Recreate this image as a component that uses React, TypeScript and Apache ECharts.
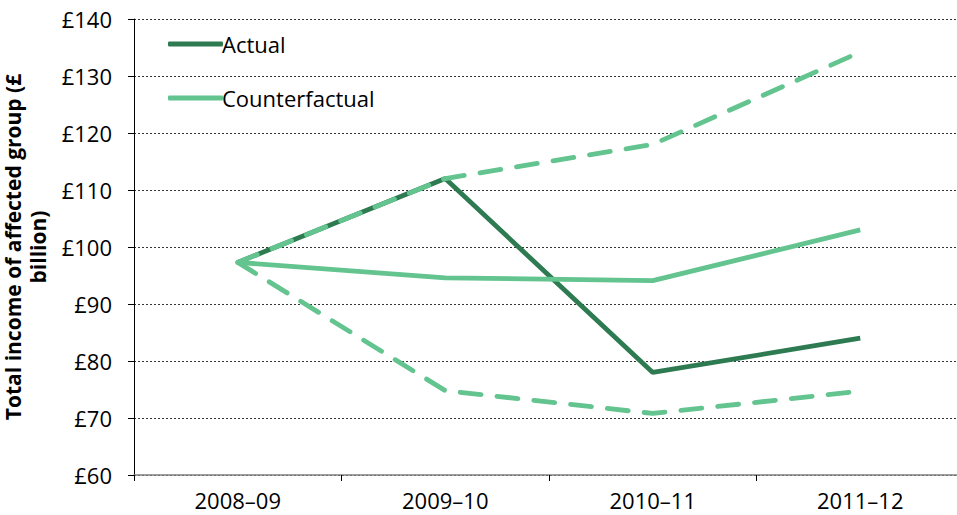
import React, { useEffect, useRef } from "react";
import * as echarts from "echarts";

const categories = ["2008–09", "2009–10", "2010–11", "2011–12"];
const actual = [97.3, 112, 78, 84];
const counterfactual = [97.3, 94.6, 94.1, 103];
const upperBound = [97.3, 112, 118, 134.2];
const lowerBound = [97.3, 74.8, 70.8, 74.7];

const DARK = "#2E7B52";
const LIGHT = "#63C48F";
const FONT = "Open Sans";

export default function App() {
  const ref = useRef<HTMLDivElement>(null);
  useEffect(() => {
    if (!ref.current) return;
    const chart = echarts.init(ref.current, null, { renderer: "svg" });
    chart.setOption({
      animation: false,
      textStyle: { fontFamily: FONT },
      grid: { left: 134, top: 19, width: 830, height: 456, containLabel: false, outerBoundsMode: "none" },
      legend: {
        data: [
          { name: "Actual", icon: "roundRect" },
          { name: "Counterfactual", icon: "roundRect" },
        ],
        orient: "vertical",
        left: 163,
        top: 27,
        itemWidth: 55,
        itemHeight: 5,
        itemGap: 30,
        textStyle: { fontSize: 22, lineHeight: 24, color: "#000", fontFamily: FONT, padding: [0, 0, 0, -6] },
      },
      xAxis: {
        type: "category",
        data: categories,
        boundaryGap: true,
        axisLine: { lineStyle: { color: "#808080", width: 1.5 } },
        axisTick: { show: true, length: 6, lineStyle: { color: "#000" } },
        axisLabel: { fontSize: 22, color: "#000", margin: 14, fontFamily: FONT },
        splitLine: { show: false },
      },
      yAxis: {
        type: "value",
        min: 60,
        max: 140,
        interval: 10,
        name: "Total income of affected group (£\nbillion)",
        nameLocation: "middle",
        nameRotate: 90,
        nameGap: 71,
        nameTextStyle: { fontSize: 21, fontWeight: "bold", color: "#000", lineHeight: 25, fontFamily: FONT },
        axisLine: { show: true, lineStyle: { color: "#000", width: 1 } },
        axisTick: { show: true, length: 6, lineStyle: { color: "#000" } },
        axisLabel: { fontSize: 22, color: "#000", margin: 22, formatter: (v: number) => "£" + v, fontFamily: FONT },
        splitLine: { show: true, lineStyle: { color: "#333", type: [2, 2], width: 1 } },
      },
      series: [
        {
          name: "Actual",
          type: "line",
          data: actual,
          symbol: "none",
          lineStyle: { color: DARK, width: 4.8 },
          itemStyle: { color: DARK },
          z: 2,
        },
        {
          name: "Counterfactual",
          type: "line",
          data: counterfactual,
          symbol: "none",
          lineStyle: { color: LIGHT, width: 4.8 },
          itemStyle: { color: LIGHT },
          z: 3,
        },
        {
          name: "Upper",
          type: "line",
          data: upperBound,
          symbol: "none",
          lineStyle: { color: LIGHT, width: 4.8, type: [21, 16], cap: "round" },
          itemStyle: { color: LIGHT },
          z: 4,
        },
        {
          name: "Lower",
          type: "line",
          data: lowerBound,
          symbol: "none",
          lineStyle: { color: LIGHT, width: 4.8, type: [21, 16], cap: "round" },
          itemStyle: { color: LIGHT },
          z: 4,
        },
      ],
    });
    return () => chart.dispose();
  }, []);
  return <div ref={ref} style={{ width: 957, height: 515, position: "absolute", left: 0, top: 0 }} />;
}
